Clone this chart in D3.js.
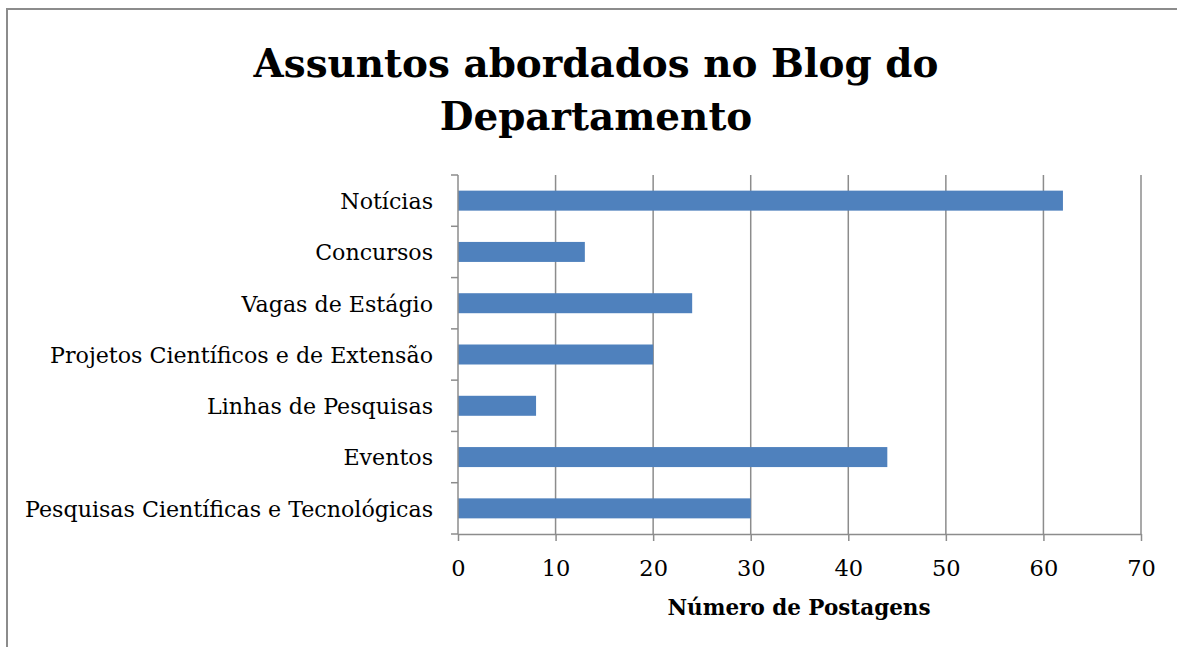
<!DOCTYPE html>
<html><head><meta charset="utf-8">
<script src="https://cdn.jsdelivr.net/npm/d3@7"></script>
<style>body{margin:0;background:#fff}svg{display:block}</style>
</head><body>
<svg id="c" width="1177" height="647"></svg>
<script>
const categories = ["Notícias","Concursos","Vagas de Estágio","Projetos Científicos e de Extensão","Linhas de Pesquisas","Eventos","Pesquisas Científicas e Tecnológicas"];
const values = [62,13,24,20,8,44,30];
const xTicks = [0,10,20,30,40,50,60,70];
const titleLines = ["Assuntos abordados no Blog do","Departamento"];
const xTitle = "Número de Postagens";

const svg = d3.select("#c");
const font = "'DejaVu Serif', serif";
const grid = "#8c8c8c";

// size a text selection so that a reference element reaches a target width
function fit(sel, refNode, target) {
  const fs = parseFloat(sel.attr("font-size"));
  const w = refNode.getComputedTextLength();
  if (w > 0) sel.attr("font-size", (fs * target / w).toFixed(2));
}

// frame
svg.append("path").attr("d","M7,647 V9 H1177").attr("fill","none").attr("stroke","#8c8c8c").attr("stroke-width",2);

const x = d3.scaleLinear().domain([0,70]).range([458,1141]);
const y = d3.scaleBand().domain(categories).range([175,534]).paddingInner(0.61).paddingOuter(0.305);

// gridlines
svg.append("g").selectAll("line").data(xTicks.slice(1)).join("line")
  .attr("x1",d=>x(d)).attr("x2",d=>x(d)).attr("y1",175).attr("y2",534)
  .attr("stroke",grid).attr("stroke-width",1.5);

// bars
svg.append("g").selectAll("rect").data(values).join("rect")
  .attr("x",x(0)).attr("y",(d,i)=>y(categories[i]))
  .attr("width",d=>x(d)-x(0)).attr("height",y.bandwidth())
  .attr("fill","#4F81BD");

// x axis
const xa = svg.append("g").attr("transform","translate(0,534)")
  .call(d3.axisBottom(x).tickValues(xTicks).tickSize(7).tickPadding(19).tickSizeOuter(0));
xa.select(".domain").attr("stroke",grid).attr("stroke-width",1.5);
xa.selectAll(".tick line").attr("stroke",grid).attr("stroke-width",1.5);
xa.selectAll("text").attr("font-family",font).attr("font-size",22.5).attr("fill","#000");

// y axis: ticks at band boundaries
const bounds = d3.range(categories.length+1).map(i=>175+i*(359/categories.length));
const ya = svg.append("g");
ya.append("line").attr("x1",458).attr("x2",458).attr("y1",175).attr("y2",534).attr("stroke",grid).attr("stroke-width",1.5);
ya.selectAll("line.t").data(bounds).join("line").attr("class","t")
  .attr("x1",451).attr("x2",458).attr("y1",d=>d).attr("y2",d=>d).attr("stroke",grid).attr("stroke-width",1.5);
const yl = ya.selectAll("text").data(categories).join("text")
  .attr("x",433).attr("y",d=>y(d)+y.bandwidth()/2).attr("dy","0.38em")
  .attr("text-anchor","end").attr("font-family",font).attr("font-size",20).text(d=>d);
fit(yl, yl.nodes()[6], 408);

// title
const tl = svg.append("g").selectAll("text").data(titleLines).join("text")
  .attr("x",596).attr("y",(d,i)=>77+i*53).attr("text-anchor","middle")
  .attr("font-family",font).attr("font-weight","bold").attr("font-size",40).text(d=>d);
fit(tl, tl.nodes()[0], 685);

const xt = svg.append("text").attr("x",799).attr("y",615).attr("text-anchor","middle")
  .attr("font-family",font).attr("font-weight","bold").attr("font-size",20).text(xTitle);
fit(xt, xt.node(), 263);
</script>
</body></html>
